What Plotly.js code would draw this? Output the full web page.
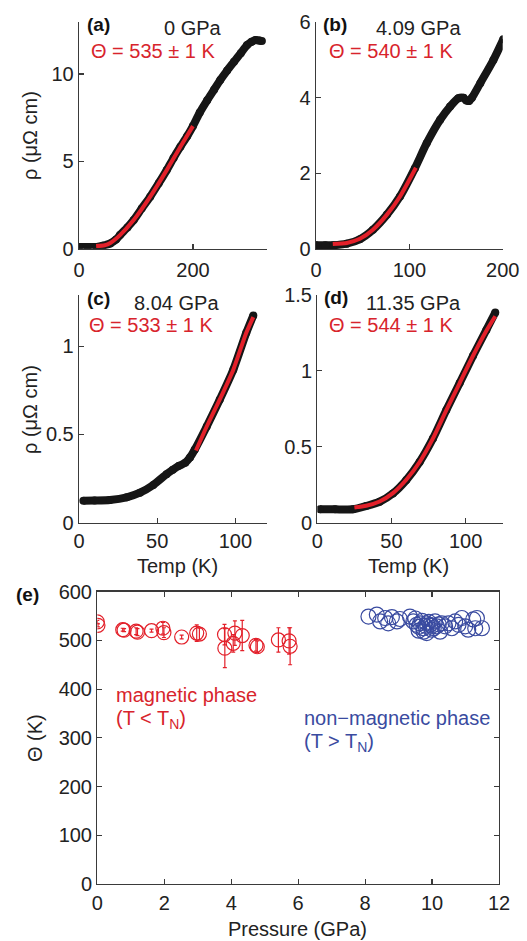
<!DOCTYPE html>
<html>
<head>
<meta charset="utf-8">
<script src="https://cdn.plot.ly/plotly-3.0.1.min.js"></script>
<style>html,body{margin:0;padding:0;background:#fff;}#chart{width:527px;height:941px;}</style>
</head>
<body>
<div id="chart"></div>
<script>
// ---- Panel (a) 0 GPa ----
const tempA = [0, 15, 31, 42, 55, 65, 72, 85, 96, 110, 125, 140, 154, 166, 178, 190, 200, 212, 225, 237, 248, 260, 272, 284, 295, 303, 310, 316, 321];
const rhoA  = [0.1, 0.1, 0.1, 0.17, 0.3, 0.52, 0.78, 1.22, 1.64, 2.3, 2.98, 3.75, 4.5, 5.2, 5.84, 6.45, 7.02, 7.8, 8.5, 9.1, 9.66, 10.2, 10.7, 11.2, 11.66, 11.85, 11.95, 11.92, 11.9];
const fitTempA = [30, 45, 55, 72, 96, 125, 154, 178, 200];
const fitRhoA  = [0.15, 0.2, 0.33, 0.78, 1.64, 2.98, 4.5, 5.84, 7.02];
// ---- Panel (b) 4.09 GPa ----
const tempB = [0, 10, 18.6, 33, 47, 61, 76, 90, 106, 118.6, 133, 143.6, 152.5, 158, 161, 164, 167, 176, 190, 200.7];
const rhoB  = [0.1, 0.1, 0.1, 0.14, 0.26, 0.51, 0.91, 1.39, 2.14, 2.8, 3.42, 3.77, 3.99, 4.0, 3.93, 3.92, 4.0, 4.39, 5.0, 5.55];
const fitTempB = [18, 33, 47, 61, 76, 90, 107];
const fitRhoB  = [0.13, 0.16, 0.27, 0.51, 0.91, 1.39, 2.15];
// ---- Panel (c) 8.04 GPa ----
const tempC = [2.8, 10, 19.8, 30.5, 39, 47.5, 56, 60, 64, 68, 71, 74, 81.7, 90, 98.7, 107, 111.5];
const rhoC  = [0.125, 0.126, 0.129, 0.144, 0.17, 0.214, 0.275, 0.3, 0.322, 0.34, 0.37, 0.413, 0.545, 0.697, 0.867, 1.076, 1.174];
const fitTempC = [74.8, 81.7, 90, 98.7, 107, 111.5];
const fitRhoC  = [0.409, 0.545, 0.697, 0.867, 1.076, 1.165];
// ---- Panel (d) 11.35 GPa ----
const tempD = [1.8, 12, 24, 33, 42, 51, 60, 69, 78, 87, 96, 105, 114, 120];
const rhoD  = [0.088, 0.088, 0.088, 0.11, 0.138, 0.193, 0.281, 0.40, 0.555, 0.742, 0.92, 1.10, 1.27, 1.385];
const fitTempD = [25, 33, 42, 51, 60, 69, 78, 87, 96, 105, 114, 120];
const fitRhoD  = [0.1, 0.112, 0.14, 0.195, 0.283, 0.40, 0.555, 0.742, 0.92, 1.10, 1.265, 1.36];
// ---- Panel (e) Theta vs pressure ----
const pressMag  = [0, 0.02, 0.76, 0.8, 1.16, 1.2, 1.62, 1.96, 1.99, 2.52, 2.97, 3.05, 3.8, 3.81, 4.06, 4.11, 4.33, 4.74, 4.78, 5.41, 5.73, 5.76];
const thetaMag  = [538, 531, 522, 521, 519, 517, 520, 525, 516, 507, 515, 513, 512, 484, 494, 515, 510, 490, 487, 501, 499, 488];
const errMag    = [3, 3, 3, 3, 7, 7, 3, 12, 10, 4, 17, 12, 21, 40, 18, 25, 31, 12, 12, 25, 27, 38];
const pressNon  = [8.10, 8.35, 8.45, 8.60, 8.69, 8.80, 8.95, 9.04, 9.34, 9.44, 9.50, 9.54, 9.60, 9.60, 9.64, 9.70, 9.74, 9.75, 9.80, 9.84, 9.84, 9.90, 9.94, 9.99, 10.0, 10.05, 10.09, 10.14, 10.2, 10.24, 10.29, 10.39, 10.49, 10.59, 10.69, 10.79, 10.89, 10.99, 11.08, 11.23, 11.29, 11.34, 11.49];
const thetaNon  = [549, 553, 539, 546, 535, 548, 539, 544, 549, 539, 545, 532, 528, 520, 535, 540, 525, 518, 530, 515, 535, 538, 532, 522, 530, 525, 539, 529, 533, 518, 535, 529, 535, 525, 539, 532, 546, 529, 522, 543, 525, 546, 525];

const BLACK = '#161616', RED = '#e3202a', REDTXT = '#d8242c', BLUE = '#3a4ba0', AX = '#3a3a3a';
const FONT = 'Liberation Sans, Arial, Helvetica, sans-serif';

function curve(x, y, xa, ya) {
  return {x: x, y: y, xaxis: xa, yaxis: ya, type: 'scatter', mode: 'lines+markers',
    line: {color: BLACK, width: 8, shape: 'spline', smoothing: 0.6}, marker: {color: BLACK, size: 8}, hoverinfo: 'skip'};
}
function fit(x, y, xa, ya) {
  return {x: x, y: y, xaxis: xa, yaxis: ya, type: 'scatter', mode: 'lines',
    line: {color: RED, width: 4, shape: 'spline', smoothing: 0.6}, hoverinfo: 'skip'};
}

const data = [
  curve(tempA, rhoA, 'x', 'y'), fit(fitTempA, fitRhoA, 'x', 'y'),
  curve(tempB, rhoB, 'x2', 'y2'), fit(fitTempB, fitRhoB, 'x2', 'y2'),
  curve(tempC, rhoC, 'x3', 'y3'), fit(fitTempC, fitRhoC, 'x3', 'y3'),
  curve(tempD, rhoD, 'x4', 'y4'), fit(fitTempD, fitRhoD, 'x4', 'y4'),
  {x: pressMag, y: thetaMag, xaxis: 'x5', yaxis: 'y5', type: 'scatter', mode: 'markers',
   marker: {symbol: 'circle-open', size: 14, color: RED, line: {width: 1.2}},
   error_y: {type: 'data', array: errMag, visible: true, color: RED, thickness: 1.2, width: 2}},
  {x: pressNon, y: thetaNon, xaxis: 'x5', yaxis: 'y5', type: 'scatter', mode: 'markers',
   marker: {symbol: 'circle-open', size: 15, color: BLUE, line: {width: 1.2}}}
];

const tickFont = {family: FONT, size: 20, color: '#222'};
function ax(o) {
  return Object.assign({showline: true, linecolor: AX, linewidth: 1.3, ticks: 'inside', ticklen: 5,
    tickcolor: AX, tickwidth: 1.2, showgrid: false, zeroline: false, tickfont: tickFont, mirror: false,
    fixedrange: true}, o);
}
const W = 527, H = 941;
const px = v => v / W, py = v => 1 - v / H;

const layout = {
  width: W, height: H, autosize: false, showlegend: false,
  margin: {l: 0, r: 0, t: 0, b: 0}, paper_bgcolor: '#fff', plot_bgcolor: '#fff',
  font: {family: FONT, color: '#222'},
  xaxis:  ax({domain: [px(79), px(267)], range: [0, 330], tickvals: [0, 200], anchor: 'y', ticklabelstandoff: 3}),
  yaxis:  ax({domain: [py(248.7), py(21.7)], range: [0, 13], tickvals: [0, 5, 10], anchor: 'x'}),
  xaxis2: ax({domain: [px(316), px(502.7)], range: [0, 200], tickvals: [0, 100, 200], anchor: 'y2', ticklabelstandoff: 3}),
  yaxis2: ax({domain: [py(249), py(22.3)], range: [0, 6], tickvals: [0, 2, 4, 6], anchor: 'x2'}),
  xaxis3: ax({domain: [px(79), px(266.6)], range: [0, 120], tickvals: [0, 50, 100], anchor: 'y3', ticklabelstandoff: 0}),
  yaxis3: ax({domain: [py(522.7), py(295)], range: [0, 1.29], tickvals: [0, 0.5, 1], anchor: 'x3'}),
  xaxis4: ax({domain: [px(317.3), px(502.7)], range: [0, 125], tickvals: [0, 50, 100], anchor: 'y4', ticklabelstandoff: 0}),
  yaxis4: ax({domain: [py(522.7), py(295)], range: [0, 1.5], tickvals: [0, 0.5, 1, 1.5], anchor: 'x4'}),
  xaxis5: ax({domain: [px(97.3), px(499)], range: [0, 12], tickvals: [0, 2, 4, 6, 8, 10, 12], anchor: 'y5', mirror: 'ticks', ticklabelstandoff: 1}),
  yaxis5: ax({domain: [py(884), py(591.7)], range: [0, 600], tickvals: [0, 100, 200, 300, 400, 500, 600], anchor: 'x5', mirror: 'ticks'}),
  annotations: []
};

function note(text, x, y, o) {
  layout.annotations.push(Object.assign({text: text, x: px(x), y: py(y), xref: 'paper', yref: 'paper',
    xanchor: 'left', yanchor: 'middle', showarrow: false, font: {family: FONT, size: 20, color: '#222'}}, o || {}));
}
const bold = {family: FONT, size: 19, color: '#111'};
const redF = {family: FONT, size: 20, color: REDTXT};
note('<b>(a)</b>', 85, 24, {font: bold});
note('0 GPa', 162, 28);
note('Θ = 535 ± 1 K', 89, 51, {font: redF});
note('<b>(b)</b>', 321, 24, {font: bold});
note('4.09 GPa', 374, 28);
note('Θ = 540 ± 1 K', 327, 51, {font: redF});
note('<b>(c)</b>', 85, 298, {font: bold});
note('8.04 GPa', 132, 303);
note('Θ = 533 ± 1 K', 87, 325, {font: redF});
note('<b>(d)</b>', 322, 297, {font: bold});
note('11.35 GPa', 364, 303);
note('Θ = 544 ± 1 K', 327, 325, {font: redF});
note('<b>(e)</b>', 14, 594, {font: bold});
note('ρ (μΩ cm)', 30, 136, {xanchor: 'center', textangle: -90});
note('ρ (μΩ cm)', 30, 410, {xanchor: 'center', textangle: -90});
note('Temp (K)', 177, 566, {xanchor: 'center'});
note('Temp (K)', 408, 566, {xanchor: 'center'});
note('Θ (K)', 35, 738, {xanchor: 'center', textangle: -90});
note('Pressure (GPa)', 297, 929, {xanchor: 'center'});
note('magnetic phase', 114, 695, {font: redF});
note('(T &lt; T<sub>N</sub>)', 114, 719, {font: redF});
note('non−magnetic phase', 302, 718, {font: {family: FONT, size: 20, color: BLUE}});
note('(T &gt; T<sub>N</sub>)', 302, 742, {font: {family: FONT, size: 20, color: BLUE}});

Plotly.newPlot('chart', data, layout, {staticPlot: true, displayModeBar: false});
</script>
</body>
</html>
